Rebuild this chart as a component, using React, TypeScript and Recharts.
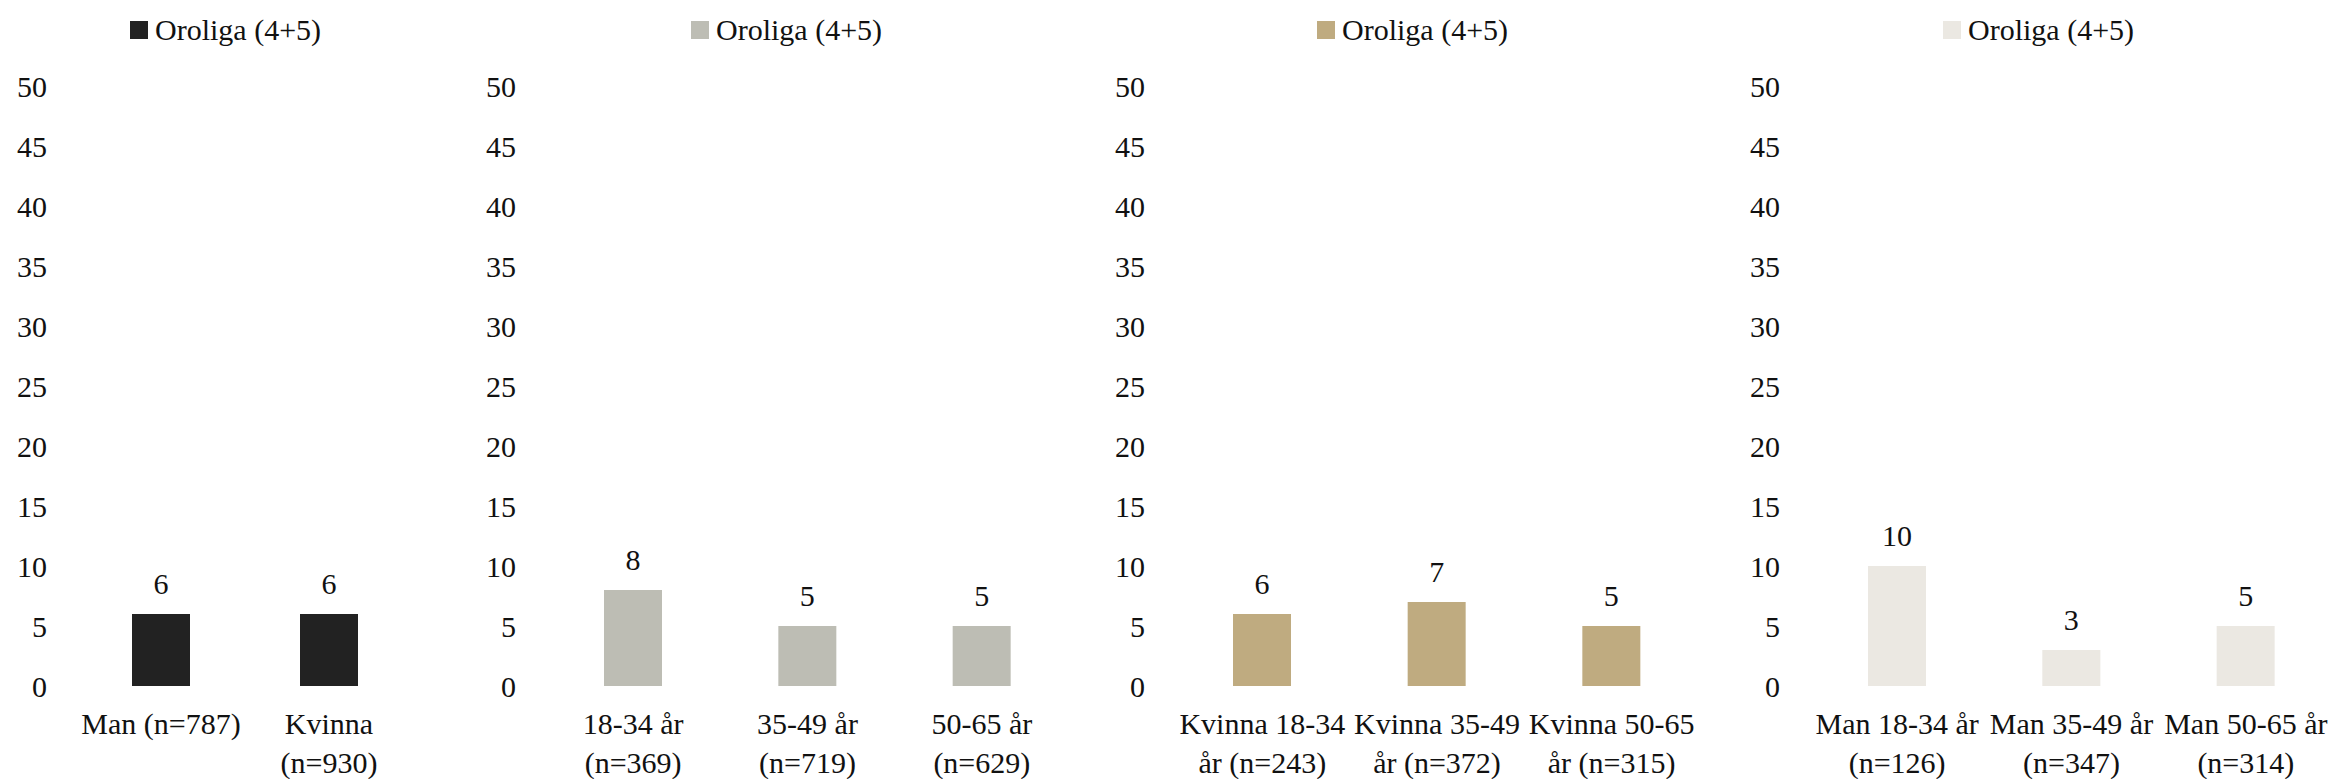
import React from 'react';
import { BarChart, Bar, XAxis, YAxis, LabelList, Legend } from 'recharts';

const seriesName = 'Oroliga (4+5)';
const yTicks = [0, 5, 10, 15, 20, 25, 30, 35, 40, 45, 50];

const genderCategories = ['Man (n=787)', 'Kvinna\n(n=930)'];
const genderValues = [6, 6];

const ageCategories = ['18-34 år\n(n=369)', '35-49 år\n(n=719)', '50-65 år\n(n=629)'];
const ageValues = [8, 5, 5];

const womenCategories = ['Kvinna 18-34\når (n=243)', 'Kvinna 35-49\når (n=372)', 'Kvinna 50-65\når (n=315)'];
const womenValues = [6, 7, 5];

const menCategories = ['Man 18-34 år\n(n=126)', 'Man 35-49 år\n(n=347)', 'Man 50-65 år\n(n=314)'];
const menValues = [10, 3, 5];

const FONT = '"Liberation Serif", "Times New Roman", serif';
const TEXT = '#111111';

const CategoryTick = (props: any) => {
  const { x, y, payload } = props;
  const lines = String(payload.value).split('\n');
  return (
    <text x={x} y={y + 48} textAnchor="middle" fill={TEXT} fontSize={30} fontFamily={FONT}>
      {lines.map((line, i) => (
        <tspan key={i} x={x} dy={i === 0 ? 0 : 39}>
          {line}
        </tspan>
      ))}
    </text>
  );
};

const LegendContent = ({ color }: { color: string }) => (
  <div
    style={{
      display: 'flex',
      alignItems: 'center',
      fontFamily: FONT,
      fontSize: 30,
      color: TEXT,
      whiteSpace: 'nowrap',
      lineHeight: '34px',
    }}
  >
    <span style={{ display: 'inline-block', width: 18, height: 18, background: color, marginRight: 7 }} />
    {seriesName}
  </div>
);

interface PanelProps {
  categories: string[];
  values: number[];
  color: string;
  left: number;
  width: number;
  legendLeft: number;
}

const Panel: React.FC<PanelProps> = ({ categories, values, color, left, width, legendLeft }) => {
  const data = categories.map((name, i) => ({ name, value: values[i] }));
  return (
    <div style={{ position: 'absolute', left, top: 0 }}>
      <BarChart width={width} height={779} data={data} margin={{ top: 86, right: 0, bottom: 0, left: 0 }}>
        <XAxis
          dataKey="name"
          axisLine={false}
          tickLine={false}
          tickSize={0}
          tickMargin={0}
          height={93}
          interval={0}
          tick={<CategoryTick />}
        />
        <YAxis
          width={77}
          domain={[0, 50]}
          ticks={yTicks}
          axisLine={false}
          tickLine={false}
          tickSize={0}
          tickMargin={30}
          tick={{ fontSize: 30, fill: TEXT, fontFamily: FONT }}
        />
        <Legend
          layout="horizontal"
          verticalAlign="middle"
          align="center"
          wrapperStyle={{ top: 13, left: legendLeft, width: 'auto' }}
          content={() => <LegendContent color={color} />}
        />
        <Bar dataKey="value" name={seriesName} fill={color} barSize={58} isAnimationActive={false}>
          <LabelList dataKey="value" position="top" offset={20} fill={TEXT} fontSize={30} fontFamily={FONT} />
        </Bar>
      </BarChart>
    </div>
  );
};

export default function App() {
  return (
    <div style={{ position: 'absolute', left: 0, top: 0, width: 2336, height: 779, background: '#ffffff' }}>
      <Panel categories={genderCategories} values={genderValues} color="#222222" left={0} width={413} legendLeft={130} />
      <Panel categories={ageCategories} values={ageValues} color="#bdbdb4" left={469} width={600} legendLeft={222} />
      <Panel categories={womenCategories} values={womenValues} color="#bfab80" left={1098} width={601} legendLeft={219} />
      <Panel categories={menCategories} values={menValues} color="#ebe8e2" left={1733} width={600} legendLeft={210} />
    </div>
  );
}
